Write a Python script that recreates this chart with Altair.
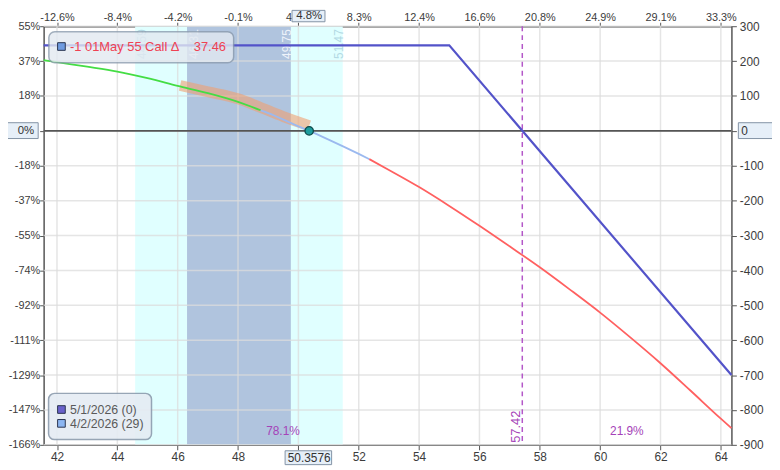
import json
import altair as alt
import pandas as pd

# ---------------- data ----------------
x_ticks = [42, 44, 46, 48, 50, 52, 54, 56, 58, 60, 62, 64]
top_labels = ['-12.6%', '-8.4%', '-4.2%', '-0.1%', '4', '8.3%', '12.4%',
              '16.6%', '20.8%', '24.9%', '29.1%', '33.3%']
y_ticks = [300, 200, 100, 0, -100, -200, -300, -400, -500, -600, -700, -800, -900]
pct_labels = ['55%', '37%', '18%', '0%', '-18%', '-37%', '-55%', '-74%', '-92%',
              '-111%', '-129%', '-147%', '-166%']

x_domain = [41.557, 64.351]
y_domain = [-900, 300]

# expiration (5/1/2026) P&L
exp_price = [41.557, 55, 64.351]
exp_pnl = [245, 245, -700]

# T+0 (4/2/2026) P&L
t0_price = [41.557, 42, 43, 44, 45, 46, 47, 48, 48.75, 49, 50, 50.3576, 51, 52, 52.35,
            53, 54, 55, 56, 57, 58, 59, 60, 61, 62, 63, 64, 64.351]
t0_pnl = [203, 197, 184, 170, 151, 129, 108, 83, 59, 51, 13, 0, -25, -66, -81,
          -112, -161, -215, -272, -331, -391, -455, -521, -592, -666, -745, -825, -852]
t0_breaks = [48.75, 52.35]
t0_segments = ['green', 'blue', 'red']

# highlighted path
hl_price = [46.08, 47, 48, 48.75, 49.5, 50.36]
hl_pnl = [130, 112, 92, 67, 41, 15]

sd1 = [46.31, 49.75]
sd2 = [44.59, 51.47]
current_price = 50.3576
current_pct = '4.8%'
breakeven = 57.42
prob_labels = ['78.1%', '21.9%']
position_label = '-1 01May 55 Call \u0394'
position_delta = '37.46'
legend_labels = ['5/1/2026 (0)', '4/2/2026 (29)']

# ---------------- layout / style ----------------
W, H = 695, 423
FONT = 'Liberation Sans'
PURPLE = '#a543b8'
BOX_FILL = '#e6eff8'
BOX_STROKE = '#8393a5'

xs = alt.Scale(domain=x_domain, nice=False, zero=False)
ys = alt.Scale(domain=y_domain, nice=False, zero=False)

axis_common = dict(title=None, grid=False, tickColor='#555', domainColor='#555',
                   domainWidth=1.5, tickWidth=1, labelFont=FONT,
                   labelColor='#3c3c3c', labelFlush=False, labelOverlap=False)

bottom_axis = alt.Axis(orient='bottom', values=x_ticks, labelPadding=2, tickSize=5,
                       labelFontSize=12,
                       labelExpr="datum.value == 50 ? '' : '' + datum.value", **axis_common)
top_axis = alt.Axis(orient='top', values=x_ticks, labelPadding=0, tickSize=4, labelFontSize=11,
                    labelOffset={'condition': {'test': 'datum.value == 50', 'value': -10}, 'value': 0},
                    labelExpr=f"{json.dumps(top_labels)}[indexof({json.dumps(x_ticks)}, datum.value)]",
                    **axis_common)
left_axis = alt.Axis(orient='left', values=y_ticks, labelPadding=0, tickSize=4, labelFontSize=11,
                     labelExpr=f"datum.value == 0 ? '' : {json.dumps(pct_labels)}[indexof({json.dumps(y_ticks)}, datum.value)]",
                     **axis_common)
right_axis = alt.Axis(orient='right', values=y_ticks, labelPadding=3, tickSize=5,
                      labelFontSize=12,
                      labelExpr="datum.value == 0 ? '' : '' + datum.value", **axis_common)

one = pd.DataFrame({'a': [0]})

# ---------------- plot marks ----------------
bands_df = pd.DataFrame({'x0': [sd2[0], sd1[0]], 'x1': [sd2[1], sd1[1]], 'kind': ['sd2', 'sd1']})
bands = alt.Chart(bands_df).mark_rect().encode(
    x=alt.X('x0:Q', scale=xs, axis=bottom_axis),
    x2='x1:Q',
    y=alt.value(0), y2=alt.value(H),
    color=alt.Color('kind:N', scale=alt.Scale(domain=['sd2', 'sd1'], range=['#e0ffff', '#b0c4de']),
                    legend=None),
)

vgrid = alt.Chart(pd.DataFrame({'v': x_ticks})).mark_rule(
    color='#dcdcdc', strokeWidth=1.5, opacity=0.75).encode(x=alt.X('v:Q', scale=xs, axis=None))
hgrid = alt.Chart(pd.DataFrame({'v': y_ticks})).mark_rule(
    color='#dcdcdc', strokeWidth=1.5, opacity=0.75).encode(y=alt.Y('v:Q', scale=ys, axis=left_axis))

lbl_colors = alt.Scale(domain=['sd2', 'sd1'], range=['#b3d9e4', '#eef3fa'])
band_lbl_left = alt.Chart(pd.DataFrame({'v': [sd2[0], sd1[0]], 'kind': ['sd2', 'sd1']})).mark_text(
    angle=270, align='right', baseline='middle', dy=7, font=FONT, fontSize=12).encode(
    x=alt.X('v:Q', scale=xs, axis=None), y=alt.value(3),
    text=alt.Text('v:Q', format='.2f'),
    color=alt.Color('kind:N', scale=lbl_colors, legend=None))
band_lbl_right = alt.Chart(pd.DataFrame({'v': [sd1[1], sd2[1]], 'kind': ['sd1', 'sd2']})).mark_text(
    angle=270, align='right', baseline='middle', dy=-4, font=FONT, fontSize=12).encode(
    x=alt.X('v:Q', scale=xs, axis=None), y=alt.value(3),
    text=alt.Text('v:Q', format='.2f'),
    color=alt.Color('kind:N', scale=lbl_colors, legend=None))

zero_line = alt.Chart(pd.DataFrame({'v': [0]})).mark_rule(color='#555', strokeWidth=2).encode(
    y=alt.Y('v:Q', scale=ys, axis=None))

hl = alt.Chart(pd.DataFrame({'price': hl_price, 'pnl': hl_pnl})).mark_line(
    color='#f0a072', strokeWidth=11, opacity=0.6, strokeCap='butt', interpolate='monotone').encode(
    x=alt.X('price:Q', scale=xs, axis=None), y=alt.Y('pnl:Q', scale=ys, axis=None))

rows = []
for p, v in zip(t0_price, t0_pnl):
    for i, name in enumerate(t0_segments):
        lo = t0_breaks[i - 1] if i > 0 else float('-inf')
        hi = t0_breaks[i] if i < len(t0_breaks) else float('inf')
        if lo <= p <= hi:
            rows.append({'price': p, 'pnl': v, 'seg': name})
t0_df = pd.DataFrame(rows)
t0 = alt.Chart(t0_df).mark_line(strokeWidth=1.8, interpolate='monotone').encode(
    x=alt.X('price:Q', scale=xs, axis=None), y=alt.Y('pnl:Q', scale=ys, axis=None),
    color=alt.Color('seg:N', scale=alt.Scale(domain=t0_segments,
                                             range=['#44dd44', '#9bb9ef', '#ff6060']), legend=None),
    detail='seg:N')

dot = alt.Chart(pd.DataFrame({'price': [current_price], 'pnl': [0]})).mark_point(
    shape='circle', filled=True, size=72, fill='#1c9d9d', stroke='#0d4a4a', strokeWidth=1.3,
    opacity=1, fillOpacity=1).encode(
    x=alt.X('price:Q', scale=xs, axis=None), y=alt.Y('pnl:Q', scale=ys, axis=None))

be_df = pd.DataFrame({'v': [breakeven]})
vline = alt.Chart(be_df).mark_rule(color='#b457c8', strokeDash=[5, 4], strokeWidth=1.5).encode(
    x=alt.X('v:Q', scale=xs, axis=None))
be_text = alt.Chart(be_df).mark_text(angle=270, align='left', baseline='middle', dy=-6,
                                     color=PURPLE, font=FONT, fontSize=13).encode(
    x=alt.X('v:Q', scale=xs, axis=None), y=alt.value(421),
    text=alt.Text('v:Q', format='.2f'))

prob_df = pd.DataFrame({'x': [(x_domain[0] + breakeven) / 2, (breakeven + x_domain[1]) / 2],
                        't': prob_labels})
prob_text = alt.Chart(prob_df).mark_text(align='center', baseline='middle', color=PURPLE,
                                         font=FONT, fontSize=12).encode(
    x=alt.X('x:Q', scale=xs, axis=None), y=alt.value(409), text='t:N')

exp_line = alt.Chart(pd.DataFrame({'price': exp_price, 'pnl': exp_pnl})).mark_line(
    color='#5353c9', strokeWidth=2.2).encode(
    x=alt.X('price:Q', scale=xs, axis=top_axis), y=alt.Y('pnl:Q', scale=ys, axis=right_axis))


def box(x0, x1, y0, y1, r=0, fill=BOX_FILL, stroke=BOX_STROKE, sw=1, op=1.0):
    return alt.Chart(one).mark_rect(fill=fill, stroke=stroke, strokeWidth=sw, cornerRadius=r,
                                    opacity=op).encode(
        x=alt.value(x0), x2=alt.value(x1), y=alt.value(y0), y2=alt.value(y1))


# tooltip box
tip_box = box(5.3, 192, 5.5, 37, r=6, fill='#e3e9f1', stroke='#8c9cae', sw=1.5, op=0.8)
tip_sq = alt.Chart(one).mark_square(size=60, fill='#6f9be0', stroke='#2a3550', strokeWidth=1,
                                    opacity=1).encode(x=alt.value(18), y=alt.value(20.5))
tip_t1 = alt.Chart(pd.DataFrame({'t': [position_label]})).mark_text(
    align='left', baseline='middle', color='#ef4153', font=FONT, fontSize=13).encode(
    x=alt.value(26.7), y=alt.value(20.8), text='t:N')
tip_t2 = alt.Chart(pd.DataFrame({'t': [position_delta]})).mark_text(
    align='left', baseline='middle', color='#ef4153', font=FONT, fontSize=13).encode(
    x=alt.value(151.7), y=alt.value(20.8), text='t:N')

# legend box
leg_box = box(5, 109, 371, 417.7, r=6, fill='#e5ecf3', stroke='#8c9cae', sw=1.5, op=0.9)
leg_sq1 = alt.Chart(one).mark_square(size=60, fill='#6a62cc', stroke='#2a3550', strokeWidth=1,
                                     opacity=1).encode(x=alt.value(18), y=alt.value(387.3))
leg_sq2 = alt.Chart(one).mark_square(size=60, fill='#8cb6f2', stroke='#2a3550', strokeWidth=1,
                                     opacity=1).encode(x=alt.value(18), y=alt.value(401.3))
leg_t1 = alt.Chart(pd.DataFrame({'t': [legend_labels[0]]})).mark_text(
    align='left', baseline='middle', color='#5a5a5a', font=FONT, fontSize=12.5).encode(
    x=alt.value(26.7), y=alt.value(387.8), text='t:N')
leg_t2 = alt.Chart(pd.DataFrame({'t': [legend_labels[1]]})).mark_text(
    align='left', baseline='middle', color='#5a5a5a', font=FONT, fontSize=12.5).encode(
    x=alt.value(26.7), y=alt.value(401.8), text='t:N')

# axis highlight boxes
cur_df = pd.DataFrame({'price': [current_price], 'pct': [current_pct]})
top_box = box(251, 284.3, -16, -4.5)
top_txt = alt.Chart(cur_df).mark_text(align='center', baseline='middle', font=FONT, fontSize=11.5,
                                      color='#333').encode(
    x=alt.X('price:Q', scale=xs, axis=None), y=alt.value(-10), text='pct:N')
bot_box = box(244, 291, 429, 443)
bot_txt = alt.Chart(cur_df).mark_text(align='center', baseline='middle', font=FONT, fontSize=12,
                                      color='#333').encode(
    x=alt.X('price:Q', scale=xs, axis=None), y=alt.value(436.3),
    text=alt.Text('price:Q', format='.4f'))
zero_df = pd.DataFrame({'v': [0], 'pct': [pct_labels[y_ticks.index(0)]], 'num': ['0']})
left_box = box(-37, -5.5, 97.5, 113.5)
left_txt = alt.Chart(zero_df).mark_text(align='right', baseline='middle', font=FONT, fontSize=11.5,
                                        color='#333').encode(
    x=alt.value(-9.5), y=alt.Y('v:Q', scale=ys, axis=None), text='pct:N')
right_box = box(702, 737, 97.5, 113.5)
right_txt = alt.Chart(zero_df).mark_text(align='left', baseline='middle', font=FONT, fontSize=12,
                                         color='#333').encode(
    x=alt.value(705), y=alt.Y('v:Q', scale=ys, axis=None), text='num:N')

chart = alt.layer(
    bands, vgrid, hgrid, band_lbl_left, band_lbl_right, zero_line, hl, t0, dot, vline,
    be_text, prob_text, exp_line,
    tip_box, tip_sq, tip_t1, tip_t2, leg_box, leg_sq1, leg_sq2, leg_t1, leg_t2,
    top_box, top_txt, bot_box, bot_txt, left_box, left_txt, right_box, right_txt,
).resolve_scale(x='independent', y='independent', color='independent').properties(
    width=W, height=H,
    autosize=alt.AutoSizeParams(type='none'),
    padding={'left': 36, 'top': 16, 'right': 41, 'bottom': 22},
    background='white',
).configure_view(stroke=None)

chart.save('out.html', embed_options={'renderer': 'svg', 'actions': False})
